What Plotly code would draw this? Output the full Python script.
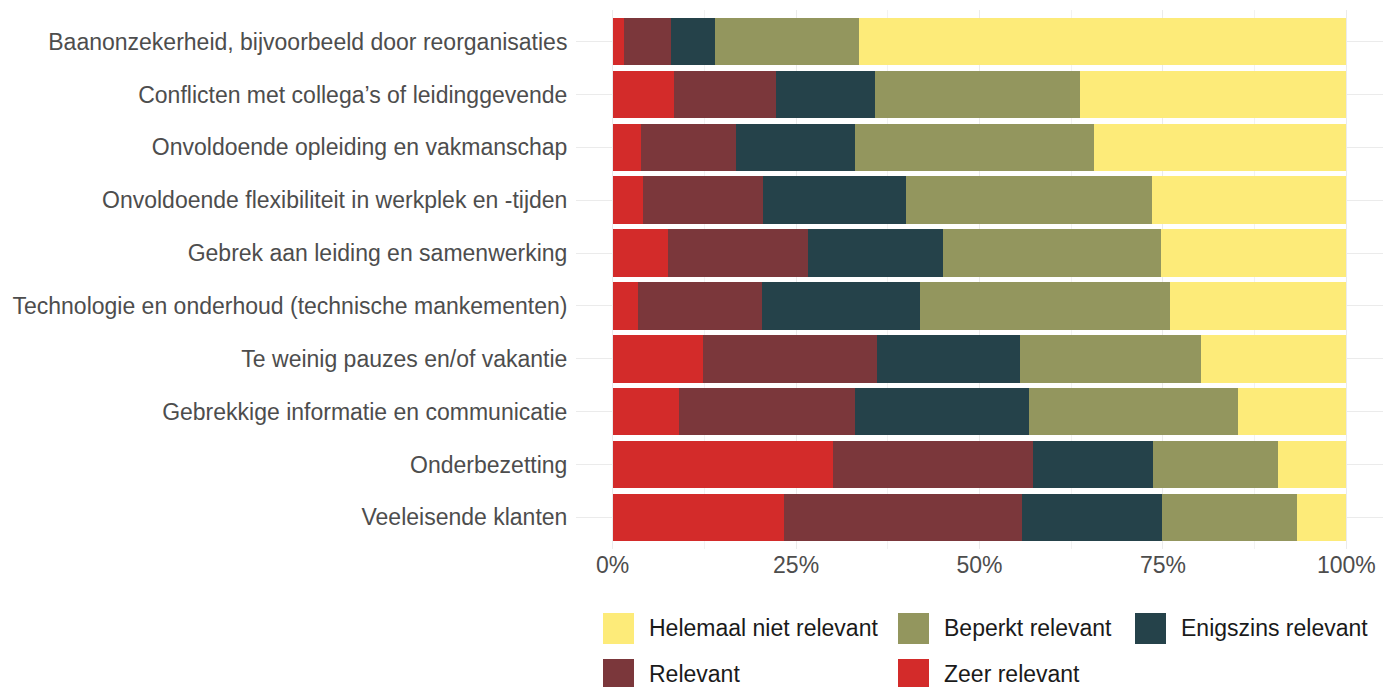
import plotly.graph_objects as go

categories = [
    "Baanonzekerheid, bijvoorbeeld door reorganisaties",
    "Conflicten met collega’s of leidinggevende",
    "Onvoldoende opleiding en vakmanschap",
    "Onvoldoende flexibiliteit in werkplek en -tijden",
    "Gebrek aan leiding en samenwerking",
    "Technologie en onderhoud (technische mankementen)",
    "Te weinig pauzes en/of vakantie",
    "Gebrekkige informatie en communicatie",
    "Onderbezetting",
    "Veeleisende klanten",
]

zeer_relevant = [1.6, 8.3, 3.8, 4.1, 7.6, 3.4, 12.3, 9.1, 30.0, 23.3]
relevant = [6.3, 13.9, 13.0, 16.4, 19.0, 16.9, 23.7, 23.9, 27.3, 32.5]
enigszins_relevant = [6.0, 13.5, 16.2, 19.5, 18.4, 21.6, 19.5, 23.8, 16.4, 19.1]
beperkt_relevant = [19.7, 28.0, 32.6, 33.5, 29.8, 34.1, 24.7, 28.5, 17.0, 18.4]
helemaal_niet_relevant = [66.4, 36.3, 34.4, 26.5, 25.2, 24.0, 19.8, 14.7, 9.3, 6.7]

series = [
    ("Zeer relevant", zeer_relevant, "#D32B2A"),
    ("Relevant", relevant, "#7B373B"),
    ("Enigszins relevant", enigszins_relevant, "#25424A"),
    ("Beperkt relevant", beperkt_relevant, "#93965E"),
    ("Helemaal niet relevant", helemaal_niet_relevant, "#FDEB79"),
]

x_ticks = [0, 25, 50, 75, 100]
x_ticklabels = ["0%", "25%", "50%", "75%", "100%"]

# page has an 8px body margin; the figure is sized so it fills the window
OFF = 8
W, H = 1392 - OFF, 687 - OFF
ML, MR, MT, MB = 576 - OFF, 9, 10 - OFF, 138
PW, PH = W - ML - MR, H - MT - MB
FS = 23

fig = go.Figure()
for name, vals, col in series:
    fig.add_trace(go.Bar(
        y=categories, x=vals, name=name, orientation="h",
        marker=dict(color=col, line=dict(width=0)), width=0.9,
        showlegend=False,
    ))

def px_x(p):
    # p: pixel x in the window
    return (p - OFF - ML) / PW

def px_y(p):
    # p: pixel y in the window
    return (H - MB - (p - OFF)) / PH

# manual legend (keys as shapes, labels as text)
legend_items = [
    ("Helemaal niet relevant", "#FDEB79", 603, 628),
    ("Beperkt relevant", "#93965E", 898, 628),
    ("Enigszins relevant", "#25424A", 1135, 628),
    ("Relevant", "#7B373B", 603, 674),
    ("Zeer relevant", "#D32B2A", 898, 674),
]
shapes = []
annotations = []
for label, col, kx, ky in legend_items:
    shapes.append(dict(type="rect", xref="paper", yref="paper",
                       x0=px_x(kx), x1=px_x(kx + 31), y0=px_y(ky + 16), y1=px_y(ky - 15),
                       fillcolor=col, line=dict(width=0)))
    annotations.append(dict(xref="paper", yref="paper", x=px_x(kx + 44), y=px_y(ky),
                            text=label, showarrow=False, xanchor="left", yanchor="middle",
                            font=dict(size=FS, color="#1A1A1A")))

fig.update_layout(
    width=W, height=H,
    margin=dict(l=ML, r=MR, t=MT, b=MB),
    barmode="stack",
    plot_bgcolor="white", paper_bgcolor="white",
    font=dict(family="Liberation Sans, Arial, sans-serif", size=FS, color="#4D4D4D"),
    shapes=shapes, annotations=annotations,
    xaxis=dict(
        range=[-5, 105], tickvals=x_ticks, ticktext=x_ticklabels,
        showgrid=True, gridcolor="#EBEBEB", gridwidth=1.1, zeroline=False,
        ticks="", ticklen=0,
        tickfont=dict(size=FS, color="#4D4D4D"),
        minor=dict(dtick=12.5, tick0=0, showgrid=True, gridcolor="#F2F2F2", gridwidth=0.6),
        showline=False, automargin=False,
    ),
    yaxis=dict(
        type="category", categoryorder="array", categoryarray=categories,
        range=[9.6, -0.6],
        showgrid=True, gridcolor="#EBEBEB", gridwidth=1.1, zeroline=False,
        ticks="outside", ticklen=3, tickcolor="rgba(0,0,0,0)",
        tickfont=dict(size=FS, color="#4D4D4D"),
        showline=False, automargin=False,
    ),
)

fig.write_html("out.html")
